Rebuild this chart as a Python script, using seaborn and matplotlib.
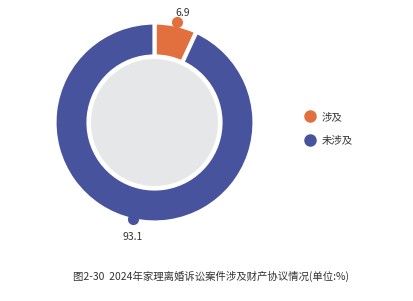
import numpy as np
import matplotlib
matplotlib.use("Agg")
import matplotlib.pyplot as plt
from matplotlib.patches import Circle
from matplotlib.lines import Line2D
import seaborn as sns

categories = ["涉及", "未涉及"]
values = [6.9, 93.1]
value_labels = ["6.9", "93.1"]
title = "图2-30  2024年家理离婚诉讼案件涉及财产协议情况(单位:%)"

sns.set_theme(style="white")
plt.rcParams["font.family"] = ["Noto Sans CJK SC", "DejaVu Sans"]
colors = ["#e2703f", "#48539d"]

W, H = 414, 301
fig = plt.figure(figsize=(W / 100, H / 100), dpi=100)
ax = fig.add_axes([0, 0, 1, 1])

cx, cy = 154.5, H - 122.5
R = 100
explode = [0.04, 0.0]
wedges, _ = ax.pie(values, colors=colors, startangle=90, counterclock=False,
                   radius=R, center=(cx, cy), explode=explode,
                   wedgeprops=dict(width=34, edgecolor="white", linewidth=3))
ax.add_patch(Circle((cx, cy), 63.5, color="#e6e7e9", zorder=3, lw=0))

total = sum(values)
cum = 0
for v, lab, col, ex in zip(values, value_labels, colors, explode):
    mid = 90 - 360 * (cum + v / 2) / total
    cum += v
    a = np.deg2rad(mid)
    off = ex * R
    px = cx + (R + off - 1) * np.cos(a)
    py = cy + (R + off - 1) * np.sin(a)
    ax.plot(px, py, "o", color=col, ms=7, zorder=4)
    if np.sin(a) > 0:
        ax.text(px + 6, py + 4, lab, ha="center", va="bottom", fontsize=7.5, color="#333333")
    else:
        ax.text(px - 1, py - 13, lab, ha="center", va="top", fontsize=7.5, color="#333333")

handles = [Line2D([], [], marker="o", ls="", color=c, ms=8) for c in colors]
leg = ax.legend(handles, categories, loc="center left", bbox_to_anchor=(295 / W, 1 - 129 / H),
                frameon=False, fontsize=7.5, handletextpad=0.2, labelspacing=1.35,
                borderaxespad=0)
for t in leg.get_texts():
    t.set_color("#333333")

ax.text(211 / W, 1 - 276 / H, title, transform=ax.transAxes, ha="center", va="center",
        fontsize=7.5, color="#333333")

ax.set_xlim(0, W)
ax.set_ylim(0, H)
ax.set_aspect("auto")
ax.axis("off")
fig.savefig("out.png", dpi=100)
